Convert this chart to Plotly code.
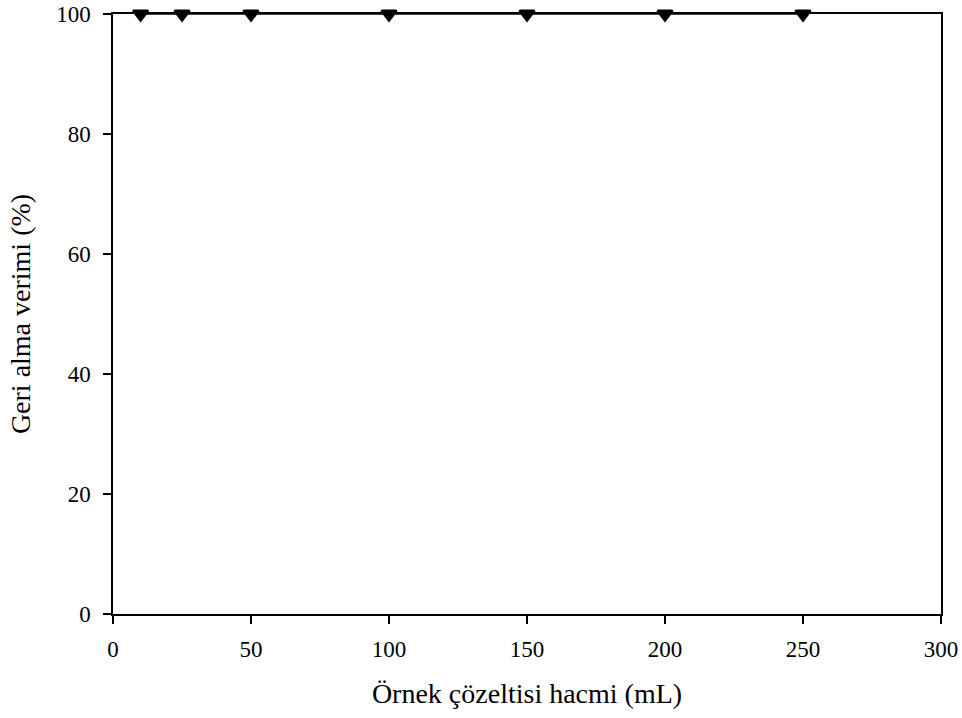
import plotly.graph_objects as go

# Sample solution volume (mL) and recovery (%)
volumes = [10, 25, 50, 100, 150, 200, 250]
recovery = [100, 100, 100, 100, 100, 100, 100]

x_ticks = [0, 50, 100, 150, 200, 250, 300]
y_ticks = [0, 20, 40, 60, 80, 100]

FONT = "Liberation Serif, Times New Roman, serif"
TICK_SIZE = 23
TITLE_SIZE = 28

fig = go.Figure()
fig.add_trace(go.Scatter(
    x=volumes, y=recovery,
    mode="lines+markers",
    line=dict(color="black", width=1.3),
    marker=dict(symbol="triangle-down", size=13, color="black",
                line=dict(color="black", width=2.5)),
    cliponaxis=False,
    showlegend=False,
))

axis_common = dict(
    showline=True, linecolor="black", linewidth=1.5, mirror=True,
    ticks="outside", ticklen=8, tickwidth=1.5, tickcolor="black",
    showgrid=False, zeroline=False, automargin=False,
    tickfont=dict(family=FONT, size=TICK_SIZE, color="black"),
)

fig.update_xaxes(
    range=[0, 300], tickvals=x_ticks, ticktext=[str(v) for v in x_ticks],
    ticklabelstandoff=6,
    title=dict(text="Örnek çözeltisi hacmi (mL)",
               font=dict(family=FONT, size=TITLE_SIZE, color="black"), standoff=22),
    **axis_common,
)
fig.update_yaxes(
    range=[0, 100], tickvals=y_ticks, ticktext=[str(v) for v in y_ticks],
    ticklabelstandoff=8,
    title=dict(text="Geri alma verimi (%)",
               font=dict(family=FONT, size=TITLE_SIZE, color="black"), standoff=17),
    **axis_common,
)

fig.update_layout(
    width=962, height=718,
    margin=dict(l=113, r=21, t=14, b=104),
    paper_bgcolor="white", plot_bgcolor="white",
    font=dict(family=FONT, color="black"),
)

fig.write_html("out.html")
